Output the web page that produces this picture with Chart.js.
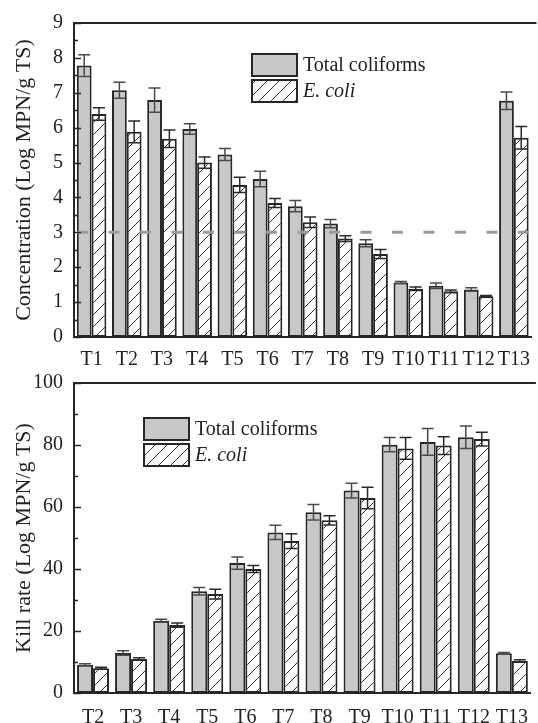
<!DOCTYPE html>
<html>
<head>
<meta charset="utf-8">
<script src="https://cdn.jsdelivr.net/npm/chart.js@4/dist/chart.umd.min.js"></script>
<style>
  html, body { margin: 0; padding: 0; background: #fff; overflow: hidden; width: 538px; height: 723px; }
  .panel { position: absolute; left: 0; }
  #topPanel { top: 0; }
  #killPanel { top: 360px; }
</style>
</head>
<body>
<div class="panel" id="topPanel"><canvas id="concChart" width="541" height="372"></canvas></div>
<div class="panel" id="killPanel"><canvas id="killChart" width="541" height="370"></canvas></div>
<script>
// === DATA ===
var concLabels = ['T1', 'T2', 'T3', 'T4', 'T5', 'T6', 'T7', 'T8', 'T9', 'T10', 'T11', 'T12', 'T13'];
var concTotal = [7.78, 7.07, 6.79, 5.96, 5.23, 4.53, 3.75, 3.25, 2.69, 1.56, 1.47, 1.36, 6.77];
var concTotalErr = [0.31, 0.23, 0.35, 0.15, 0.17, 0.22, 0.16, 0.12, 0.10, 0.03, 0.08, 0.05, 0.25];
var concEcoli = [6.39, 5.88, 5.68, 5.00, 4.36, 3.84, 3.29, 2.82, 2.38, 1.38, 1.31, 1.17, 5.71];
var concEcoliErr = [0.18, 0.31, 0.25, 0.16, 0.22, 0.13, 0.15, 0.08, 0.13, 0.05, 0.04, 0.02, 0.32];
var concThreshold = 3;

var killLabels = ['T2', 'T3', 'T4', 'T5', 'T6', 'T7', 'T8', 'T9', 'T10', 'T11', 'T12', 'T13'];
var killTotal = [9.1, 12.9, 23.3, 32.8, 41.9, 51.8, 58.3, 65.3, 80.1, 81.0, 82.5, 12.8];
var killTotalErr = [0.3, 0.7, 0.5, 1.2, 2.0, 2.3, 2.5, 2.4, 2.3, 4.3, 3.6, 0.3];
var killEcoli = [8.0, 11.0, 21.9, 31.9, 40.0, 49.0, 55.7, 62.9, 78.9, 79.8, 81.9, 10.3];
var killEcoliErr = [0.3, 0.4, 0.7, 1.6, 1.1, 2.4, 1.5, 3.5, 3.5, 2.9, 2.2, 0.4];

var seriesNames = ['Total coliforms', 'E. coli'];

// === STYLE ===
var SERIF = "'Liberation Serif', 'Times New Roman', 'DejaVu Serif', serif";
var INK = '#262626';
var GRAY_FILL = '#c8c8c8';

// diagonal hatch like "/" for E. coli bars
function makeHatch() {
  var c = document.createElement('canvas');
  c.width = 12; c.height = 12;
  var g = c.getContext('2d');
  g.fillStyle = '#fff';
  g.fillRect(0, 0, 12, 12);
  g.strokeStyle = '#333';
  g.lineWidth = 1;
  g.beginPath();
  g.moveTo(0, 12); g.lineTo(12, 0);
  g.moveTo(-6, 6); g.lineTo(6, -6);
  g.moveTo(6, 18); g.lineTo(18, 6);
  g.stroke();
  return document.createElement('canvas').getContext('2d').createPattern(c, 'repeat');
}
var hatch = makeHatch();

// symmetric error bars with caps, drawn through the y scale
var errorBarsPlugin = {
  id: 'errorBars',
  afterDatasetsDraw: function(chart, args, opts) {
    var ctx = chart.ctx, y = chart.scales.y;
    ctx.save();
    chart.data.datasets.forEach(function(ds, i) {
      var meta = chart.getDatasetMeta(i);
      ctx.strokeStyle = i === 0 ? '#4a4a4a' : '#2a2a2a';
      ctx.lineWidth = 1.5;
      meta.data.forEach(function(bar, j) {
        var v = ds.data[j], e = ds.errors[j];
        var yHi = y.getPixelForValue(v + e), yLo = y.getPixelForValue(v - e);
        ctx.beginPath();
        ctx.moveTo(bar.x, yHi); ctx.lineTo(bar.x, yLo);
        ctx.moveTo(bar.x - 6, yHi); ctx.lineTo(bar.x + 6, yHi);
        ctx.moveTo(bar.x - 6, yLo); ctx.lineTo(bar.x + 6, yLo);
        ctx.stroke();
      });
    });
    ctx.restore();
  }
};

// inward major/minor ticks on the y axis plus the top frame line
var frameTicksPlugin = {
  id: 'frameTicks',
  afterDraw: function(chart, args, opts) {
    var ctx = chart.ctx, y = chart.scales.y, a = chart.chartArea;
    ctx.save();
    ctx.strokeStyle = INK;
    ctx.lineWidth = 1.5;
    for (var v = y.min; v <= y.max + 1e-9; v += opts.minor) {
      var py = Math.round(y.getPixelForValue(v)) + 0.5;
      var isMajor = Math.abs(v / opts.major - Math.round(v / opts.major)) < 1e-6;
      ctx.beginPath();
      ctx.moveTo(a.left, py);
      ctx.lineTo(a.left + (isMajor ? 7 : 4), py);
      ctx.stroke();
    }
    ctx.lineWidth = 2;
    ctx.beginPath();
    ctx.moveTo(a.left - 1, a.top);
    ctx.lineTo(a.right + 5, a.top);
    ctx.stroke();
    ctx.restore();
  }
};

// dashed reference level
var thresholdPlugin = {
  id: 'threshold',
  afterDatasetsDraw: function(chart, args, opts) {
    if (opts.value == null) return;
    var ctx = chart.ctx, a = chart.chartArea;
    var py = chart.scales.y.getPixelForValue(opts.value);
    ctx.save();
    ctx.strokeStyle = '#9a9a9a';
    ctx.lineWidth = 3;
    ctx.setLineDash([11, 20.5]);
    ctx.beginPath();
    ctx.moveTo(a.left + 3, py);
    ctx.lineTo(a.right, py);
    ctx.stroke();
    ctx.restore();
  }
};

// boxed legend in the plot, styled from the datasets
var boxLegendPlugin = {
  id: 'boxLegend',
  afterDraw: function(chart, args, opts) {
    var ctx = chart.ctx, a = chart.chartArea;
    var x = a.left + opts.dx, y0 = a.top + opts.dy;
    ctx.save();
    chart.data.datasets.forEach(function(ds, i) {
      var by = y0 + i * 26;
      ctx.fillStyle = ds.backgroundColor;
      ctx.fillRect(x, by, 45, 22);
      ctx.strokeStyle = INK;
      ctx.lineWidth = 2;
      ctx.strokeRect(x, by, 45, 22);
      ctx.fillStyle = '#222';
      ctx.font = (i === 1 ? 'italic ' : '') + '20px ' + SERIF;
      ctx.textBaseline = 'middle';
      ctx.fillText(ds.label, x + 51, by + 12);
    });
    ctx.restore();
  }
};

function buildChart(canvasId, labels, total, totalErr, ecoli, ecoliErr, yOpts) {
  var ctx = document.getElementById(canvasId).getContext('2d');
  var barStyle = { borderColor: INK, borderWidth: 2, borderSkipped: false,
                   categoryPercentage: 0.84, barPercentage: 1 };
  return new Chart(ctx, {
    type: 'bar',
    data: {
      labels: labels,
      datasets: [
        Object.assign({ label: seriesNames[0], data: total, errors: totalErr, backgroundColor: GRAY_FILL }, barStyle),
        Object.assign({ label: seriesNames[1], data: ecoli, errors: ecoliErr, backgroundColor: hatch }, barStyle)
      ]
    },
    options: {
      responsive: false, animation: false,
      layout: { padding: { top: yOpts.padTop, right: 1, left: 0, bottom: 0 } },
      plugins: {
        legend: { display: false }, tooltip: { enabled: false },
        errorBars: {},
        frameTicks: { major: yOpts.step, minor: yOpts.step / 2 },
        threshold: { value: yOpts.threshold },
        boxLegend: { dx: yOpts.legendDx, dy: yOpts.legendDy }
      },
      scales: {
        x: {
          grid: { display: false, drawTicks: false },
          border: { display: true, color: INK, width: 2 },
          ticks: { font: { family: SERIF, size: 20 }, color: '#222', padding: yOpts.xPad, maxRotation: 0, autoSkip: false },
          afterFit: function(s) { s.height = yOpts.xHeight; }
        },
        y: {
          min: 0, max: yOpts.max,
          grid: { display: false, drawTicks: false },
          border: { display: true, color: INK, width: 2 },
          ticks: { stepSize: yOpts.step, font: { family: SERIF, size: 20 }, color: '#222', padding: 11 },
          title: { display: true, text: yOpts.title, font: { family: SERIF, size: 22 }, color: '#222', padding: { top: 11, bottom: 0 } },
          afterFit: function(s) { s.width = 74; }
        }
      }
    },
    plugins: [errorBarsPlugin, frameTicksPlugin, thresholdPlugin, boxLegendPlugin]
  });
}

buildChart('concChart', concLabels, concTotal, concTotalErr, concEcoli, concEcoliErr, {
  max: 9, step: 1, threshold: concThreshold, title: 'Concentration (Log MPN/g TS)',
  padTop: 20, xHeight: 35, xPad: 11, legendDx: 178, legendDy: 31
});

buildChart('killChart', killLabels, killTotal, killTotalErr, killEcoli, killEcoliErr, {
  max: 100, step: 20, threshold: null, title: 'Kill rate (Log MPN/g TS)',
  padTop: 17, xHeight: 37, xPad: 13, legendDx: 70, legendDy: 35
});
</script>
</body>
</html>
